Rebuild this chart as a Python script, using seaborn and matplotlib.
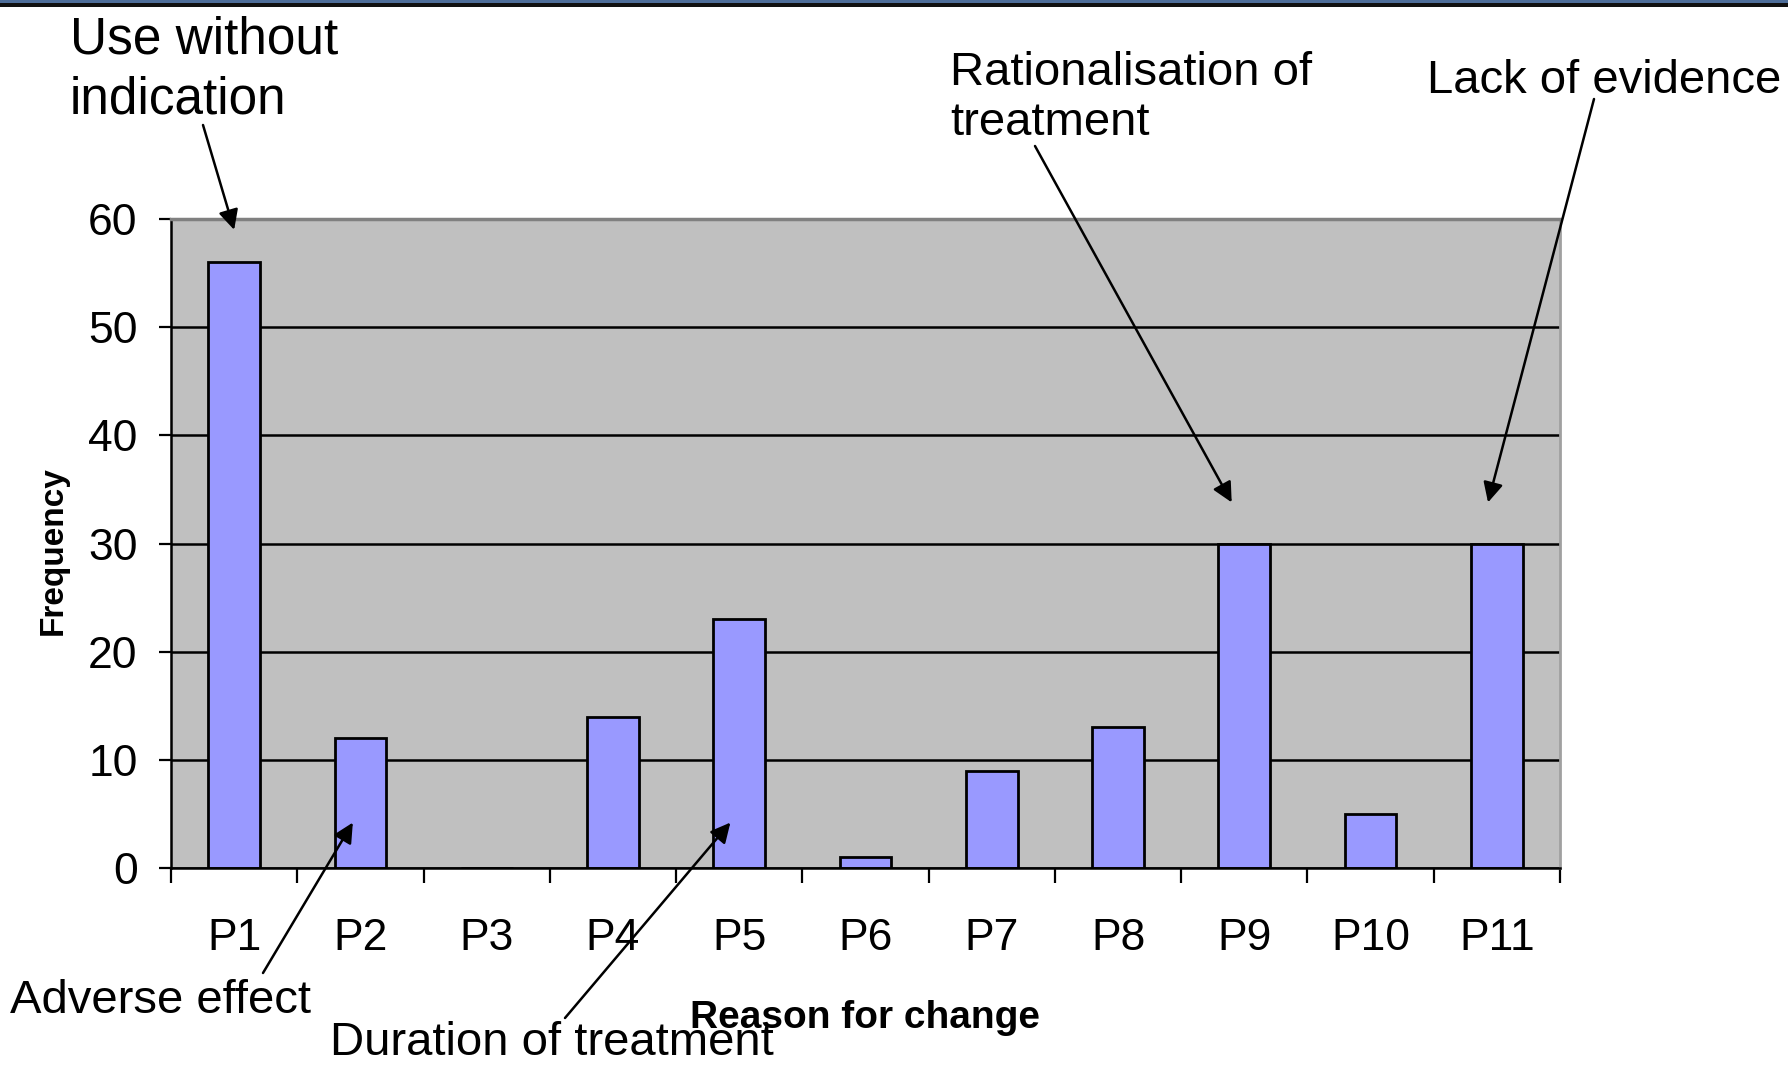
import matplotlib
matplotlib.use('Agg')
import matplotlib.pyplot as plt
from matplotlib import font_manager
from matplotlib.patches import Rectangle
import numpy as np
import pandas as pd
import seaborn as sns

# ---------------- data ----------------
categories = ['P1', 'P2', 'P3', 'P4', 'P5', 'P6', 'P7', 'P8', 'P9', 'P10', 'P11']
frequency = [56, 12, 0, 14, 23, 1, 9, 13, 30, 5, 30]
y_ticks = [0, 10, 20, 30, 40, 50, 60]
x_title = 'Reason for change'
y_title = 'Frequency'

# annotations: (text lines, tip category index, tip value)
annot_use = (['Use without', 'indication'], 0, 59)
annot_adverse = (['Adverse effect'], 0.94, 4.2)
annot_duration = (['Duration of treatment'], 3.93, 4.2)
annot_rational = (['Rationalisation of', 'treatment'], 7.9, 33.8)
annot_lack = (['Lack of evidence'], 9.93, 33.8)

# ---------------- style ----------------
W, H = 1788, 1066
sns.set_style('ticks', {'axes.facecolor': '#C0C0C0'})
names = {f.name for f in font_manager.fontManager.ttflist}
narrow = 'Liberation Sans Narrow' if 'Liberation Sans Narrow' in names else 'Liberation Sans'
plt.rcParams['font.family'] = ['Liberation Sans', 'DejaVu Sans']
for key in ['text.color', 'axes.labelcolor', 'xtick.color', 'ytick.color']:
    plt.rcParams[key] = 'black'

fig = plt.figure(figsize=(W / 100, H / 100), dpi=100)
fig.patch.set_facecolor('white')

def fx(x):
    return x / W

def fy(y):
    return 1 - y / H

ax_l, ax_r, ax_t, ax_b = 171, 1560, 219, 868
ax = fig.add_axes([fx(ax_l), fy(ax_b), (ax_r - ax_l) / W, (ax_b - ax_t) / H])

df = pd.DataFrame({'Reason': categories, 'Frequency': frequency})
sns.barplot(data=df, x='Reason', y='Frequency', color='#9999FF', saturation=1,
            edgecolor='black', linewidth=2, width=0.41, ax=ax)

ax.set_xlim(-0.5, len(categories) - 0.5)
ax.set_ylim(y_ticks[0], y_ticks[-1])
ax.set_yticks(y_ticks)
ax.yaxis.grid(True, color='black', lw=1.8)
ax.set_axisbelow(True)

for s in ['left', 'bottom']:
    ax.spines[s].set_color('black')
    ax.spines[s].set_linewidth(1.8)
ax.spines['top'].set_color('#808080')
ax.spines['top'].set_linewidth(2.5)
ax.spines['right'].set_color('#A0A0A0')
ax.spines['right'].set_linewidth(2)

ax.tick_params(axis='y', left=True, direction='out', length=9, width=1.6,
               color='black', labelcolor='black', pad=15, labelsize=32)
ax.tick_params(axis='x', which='major', bottom=True, length=0, pad=36,
               labelsize=32, labelcolor='black')
ax.set_xticks(np.arange(len(categories) + 1) - 0.5, minor=True)
ax.tick_params(axis='x', which='minor', bottom=True, direction='out', length=11,
               width=1.6, color='black')
for lbl in ax.get_yticklabels() + ax.get_xticklabels():
    lbl.set_fontfamily(narrow)

ax.set_xlabel(x_title, fontsize=28, fontweight='bold', family=narrow, color='black')
ax.xaxis.set_label_coords(0.5, -(1028 - ax_b) / (ax_b - ax_t))
ax.xaxis.label.set_va('baseline')
ax.set_ylabel(y_title, fontsize=24, fontweight='bold', color='black')
ax.yaxis.set_label_coords((53 - ax_l) / (ax_r - ax_l), (ax_b - 551) / (ax_b - ax_t))
ax.yaxis.label.set_va('center')

# ---------------- annotations ----------------
def add_annot(spec, text_x, baselines, start, size=34):
    lines, tx, ty = spec
    for line, by in zip(lines, baselines):
        fig.text(fx(text_x), fy(by), line, fontsize=size, ha='left', va='baseline',
                 color='black')
    ax.annotate('', xy=(tx, ty), xycoords='data',
                xytext=(fx(start[0]), fy(start[1])), textcoords='figure fraction',
                annotation_clip=False,
                arrowprops=dict(arrowstyle='-|>', color='black', lw=1.8,
                                mutation_scale=30, shrinkA=0, shrinkB=0))

add_annot(annot_use, 70, [53, 113], (203, 125), size=37)
add_annot(annot_rational, 950, [85, 135], (1035, 146))
add_annot(annot_lack, 1427, [93], (1594, 99))
add_annot(annot_adverse, 10, [1013], (263, 973))
add_annot(annot_duration, 330, [1055], (565, 1018))

# slide header band at the top
fig.patches.append(Rectangle((0, fy(3)), 1, 3 / H, transform=fig.transFigure,
                             facecolor='#4E6E9A', edgecolor='none', zorder=10))
fig.patches.append(Rectangle((0, fy(7)), 1, 4 / H, transform=fig.transFigure,
                             facecolor='#111111', edgecolor='none', zorder=10))

fig.savefig('out.png', dpi=100)
